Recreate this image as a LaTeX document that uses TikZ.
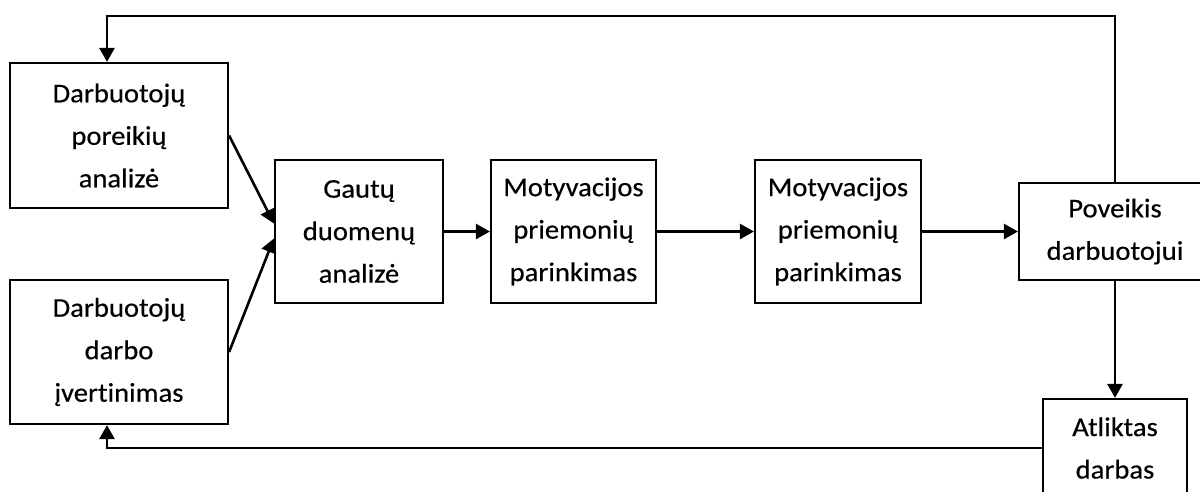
\documentclass[tikz,border=0pt]{standalone}
\usepackage{fontspec}
\setmainfont[FakeStretch=1.06,FakeBold=0.4,Ligatures=NoCommon]{Carlito}
\usetikzlibrary{arrows.meta,calc}
\begin{document}
\begin{tikzpicture}[x=1pt,y=-1pt,
  box/.style={draw,line width=2.2pt,inner sep=0pt,align=center,
    font=\fontsize{27}{42.5}\selectfont},
  arr/.style={line width=2.6pt,-{Triangle[length=14pt,width=15pt]}},
  ln/.style={line width=2.2pt}]
\useasboundingbox (0,0) rectangle (1200,491);
\node[box,minimum width=218pt,minimum height=145pt] (A) at (119,135.5) {Darbuotojų\\poreikių\\analizė};
\node[box,minimum width=218pt,minimum height=144pt] (B) at (119,352) {Darbuotojų\\darbo\\įvertinimas};
\node[box,minimum width=168pt,minimum height=143pt] (C) at (359,231.5) {Gautų\\duomenų\\analizė};
\node[box,minimum width=165pt,minimum height=143pt] (D) at (573.5,231.5) {Motyvacijos\\priemonių\\parinkimas};
\node[box,minimum width=166pt,minimum height=143pt] (E) at (838,231.5) {Motyvacijos\\priemonių\\parinkimas};
\node[box,minimum width=192pt,minimum height=97pt] (F) at (1115,231.5) {Poveikis\\darbuotojui};
\node[box,minimum width=144pt,minimum height=98pt] (G) at (1115,448) {Atliktas\\darbas};
\coordinate (ci1) at ([yshift=8pt]C.west);
\coordinate (ci2) at ([yshift=-7pt]C.west);
\coordinate (tl) at (107,16);
\coordinate (bl) at (107,448);
\draw[arr] (A.east) -- (ci1);
\draw[arr] (B.east) -- (ci2);
\draw[arr] (C.east) -- (D.west);
\draw[arr] (D.east) -- (E.west);
\draw[arr] (E.east) -- (F.west);
\draw[arr] (F.south) -- (G.north);
\draw[arr] (F.north) |- (tl) -- (tl |- A.north);
\draw[arr] (G.west) -- (G.west -| bl) -- (bl |- B.south);
\end{tikzpicture}
\end{document}
